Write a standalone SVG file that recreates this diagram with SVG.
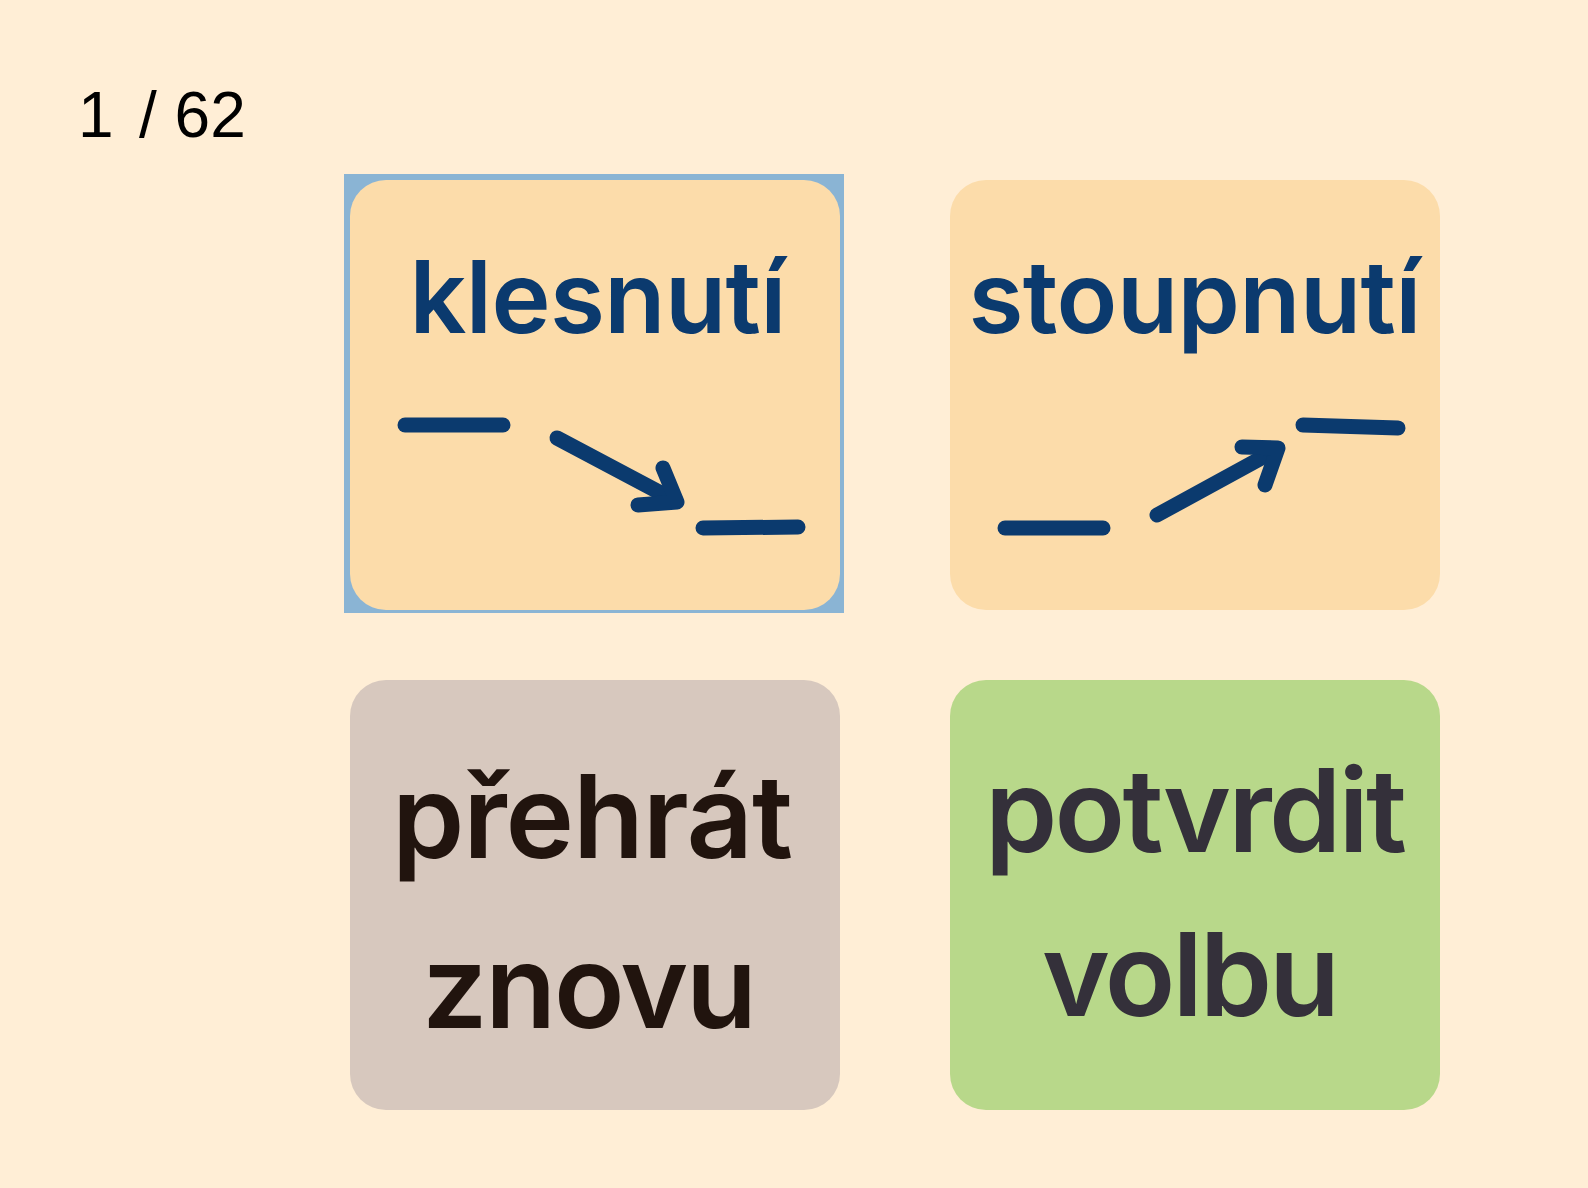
<svg xmlns="http://www.w3.org/2000/svg" width="1588" height="1188" viewBox="0 0 1588 1188">
<style>
.card{stroke:none}
.lbl{font-family:Inter,"Open Sans","Liberation Sans",sans-serif;font-weight:600;text-anchor:middle}
.navy{fill:#0B3A6E}
.stroke{fill:none;stroke:#0B3A6E;stroke-width:15;stroke-linecap:round;stroke-linejoin:round}
</style>
<rect x="0" y="0" width="1588" height="1188" fill="#FFEED6"/>
<text x="78" y="137" font-family="'Liberation Sans',Arial,sans-serif" font-size="64" fill="#000">1<tspan x="139">/ 62</tspan></text>

<g id="node-klesnuti">
<rect x="344" y="174" width="500" height="439" fill="#8AB4D4"/>
<rect class="card" x="350" y="180" width="490" height="430" rx="36" fill="#FCDCAA"/>
<text class="lbl navy" x="598" y="333" font-size="100" textLength="377" lengthAdjust="spacing">klesnutí</text>
<path class="stroke" d="M405 425 H503"/>
<path class="stroke" d="M557 438 L672 499"/>
<path class="stroke" d="M663 468 L677 502 L638 505"/>
<path class="stroke" d="M703 528 L798 527"/>
</g>

<g id="node-stoupnuti">
<rect class="card" x="950" y="180" width="490" height="430" rx="36" fill="#FCDCAA"/>
<text class="lbl navy" x="1195" y="333" font-size="100" textLength="453" lengthAdjust="spacing">stoupnutí</text>
<path class="stroke" d="M1005 528 H1103"/>
<path class="stroke" d="M1157 515 L1274 451"/>
<path class="stroke" d="M1242 447 L1278 448 L1265 485"/>
<path class="stroke" d="M1303 425 L1398 428"/>
</g>

<g id="node-prehrat">
<rect class="card" x="350" y="680" width="490" height="430" rx="36" fill="#D7C8BE"/>
<text class="lbl" fill="#21140E" x="592.5" y="858" font-size="116" textLength="401" lengthAdjust="spacing">přehrát</text>
<text class="lbl" fill="#21140E" x="589.5" y="1028" font-size="116" textLength="335" lengthAdjust="spacing">znovu</text>
</g>

<g id="node-potvrdit">
<rect class="card" x="950" y="680" width="490" height="430" rx="36" fill="#B8D88A"/>
<text class="lbl" fill="#34303A" x="1196" y="852" font-size="116" textLength="422" lengthAdjust="spacing">potvrdit</text>
<text class="lbl" fill="#34303A" x="1191" y="1016" font-size="116" textLength="298" lengthAdjust="spacing">volbu</text>
</g>

<g id="connectors"></g>
</svg>
